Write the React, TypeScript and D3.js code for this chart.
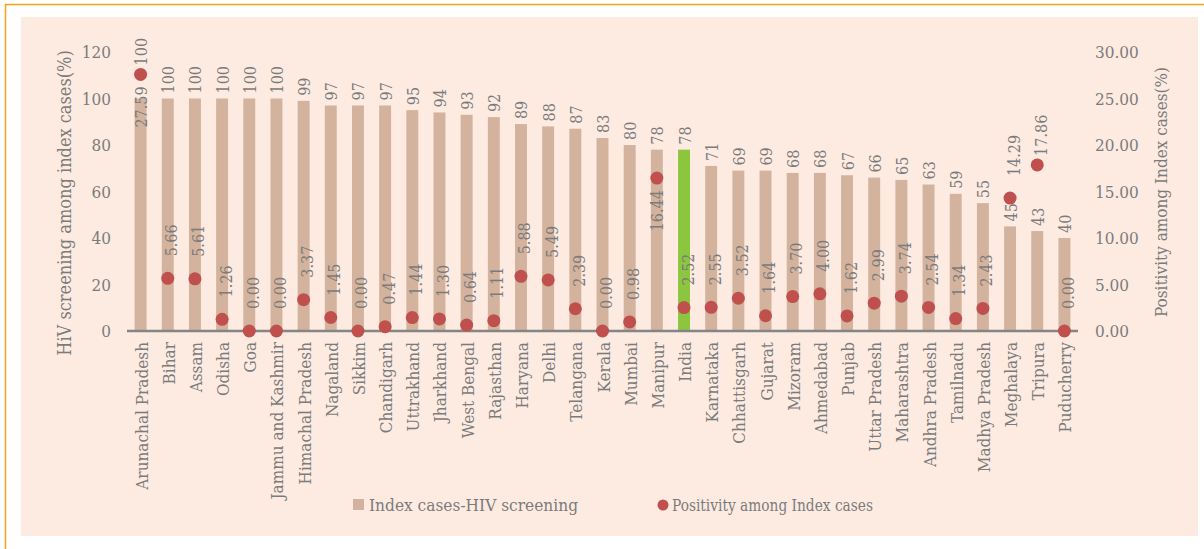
import React from "react";
import * as d3 from "d3";

const categories: string[] = [
  "Arunachal Pradesh", "Bihar", "Assam", "Odisha", "Goa", "Jammu and Kashmir",
  "Himachal Pradesh", "Nagaland", "Sikkim", "Chandigarh", "Uttrakhand", "Jharkhand",
  "West Bengal", "Rajasthan", "Haryana", "Delhi", "Telangana", "Kerala", "Mumbai",
  "Manipur", "India", "Karnataka", "Chhattisgarh", "Gujarat", "Mizoram", "Ahmedabad",
  "Punjab", "Uttar Pradesh", "Maharashtra", "Andhra Pradesh", "Tamilnadu",
  "Madhya Pradesh", "Meghalaya", "Tripura", "Puducherry",
];

const screening: number[] = [
  100, 100, 100, 100, 100, 100, 99, 97, 97, 97, 95, 94, 93, 92, 89, 88, 87, 83, 80,
  78, 78, 71, 69, 69, 68, 68, 67, 66, 65, 63, 59, 55, 45, 43, 40,
];

const positivity: number[] = [
  27.59, 5.66, 5.61, 1.26, 0.0, 0.0, 3.37, 1.45, 0.0, 0.47, 1.44, 1.3, 0.64, 1.11,
  5.88, 5.49, 2.39, 0.0, 0.98, 16.44, 2.52, 2.55, 3.52, 1.64, 3.7, 4.0, 1.62, 2.99,
  3.74, 2.54, 1.34, 2.43, 14.29, 17.86, 0.0,
];

const leftTicks: number[] = [0, 20, 40, 60, 80, 100, 120];
const rightTicks: number[] = [0, 5, 10, 15, 20, 25, 30];

const highlight = "India";
const seriesNames = ["Index cases-HIV screening", "Positivity among Index cases"];
const leftTitle = "HiV screening among index cases(%)";
const rightTitle = "Positivity among Index cases(%)";

const FONT = "'DejaVu Serif Condensed', 'DejaVu Serif', serif";
const TXT = "#7b7b7b";
const BAR = "#d3b39d";
const GREEN = "#8cc63f";
const DOT = "#c0504d";

export default function App() {
  const W = 1204, H = 549;
  const x = d3.scaleBand<string>().domain(categories).range([127, 1078]).paddingInner(0.56).paddingOuter(0.28);
  const yL = d3.scaleLinear().domain([0, 120]).range([331, 52]);
  const yR = d3.scaleLinear().domain([0, 30]).range([331, 52]);
  const bw = x.bandwidth();
  const labelFS = 16;
  const charW = labelFS * 0.56;
  const plotTop = yL(120);
  const R = 6.5;

  return (
    <svg width={W} height={H} style={{ position: "absolute", left: 0, top: 0, fontFamily: FONT }}>
      <rect x={0} y={0} width={W} height={H} fill="#ffffff" />
      <line x1={5} y1={4.5} x2={W} y2={4.5} stroke="#f5a21c" strokeWidth={1.5} />
      <line x1={5.5} y1={4} x2={5.5} y2={H} stroke="#f5a21c" strokeWidth={1.5} />
      <rect x={21} y={17} width={1177} height={519} fill="#fdebe2" />

      {/* bars */}
      {categories.map((c, i) => (
        <rect key={"b" + c} x={x(c)} y={yL(screening[i])} width={bw}
          height={yL(0) - yL(screening[i])} fill={c === highlight ? GREEN : BAR} />
      ))}

      {/* baseline */}
      <line x1={127} x2={1078} y1={yL(0)} y2={yL(0)} stroke="#858585" strokeWidth={2.5} />

      {/* dots */}
      {categories.map((c, i) => (
        <circle key={"d" + c} cx={(x(c) as number) + bw / 2} cy={yR(positivity[i])} r={R} fill={DOT} />
      ))}

      {/* labels */}
      {categories.map((c, i) => {
        const cx = (x(c) as number) + bw / 2;
        const barTop = yL(screening[i]);
        const dy = yR(positivity[i]);
        const barTxt = String(screening[i]);
        const dotTxt = positivity[i].toFixed(2);
        const barLen = barTxt.length * charW;
        const dotLen = dotTxt.length * charW;
        // bar label above bar, moved above the dot when the dot covers it
        let barStart = barTop - 5;
        const overlap = Math.min(dy + R, barStart) - Math.max(dy - R, barStart - barLen);
        if (overlap > 3) barStart = dy - 9;
        const barLabelTop = barStart - barLen;
        // dot label above dot; below when it would hit the bar label or leave the plot
        const gap = dy < barTop - 40 ? 9 : 22;
        const dotAbove = dy - gap;
        let below = false;
        if (dotAbove > barLabelTop - 4 && dotAbove - dotLen < barStart + 4) below = true;
        if (dotAbove - dotLen < plotTop) below = true;
        return (
          <g key={"l" + c} fill={TXT} fontSize={labelFS}>
            <text transform={`translate(${cx + 1},${barStart}) rotate(-90)`} dominantBaseline="central" textAnchor="start">{barTxt}</text>
            {below ? (
              <text transform={`translate(${cx + 1},${dy + 12}) rotate(-90)`} dominantBaseline="central" textAnchor="end">{dotTxt}</text>
            ) : (
              <text transform={`translate(${cx + 4},${dotAbove}) rotate(-90)`} dominantBaseline="central" textAnchor="start">{dotTxt}</text>
            )}
          </g>
        );
      })}

      {/* x labels */}
      {categories.map((c) => (
        <text key={"x" + c} transform={`translate(${(x(c) as number) + bw / 2 + 1},${342}) rotate(-90)`}
          textAnchor="end" dominantBaseline="central" fill={TXT} fontSize={17}>{c}</text>
      ))}

      {/* axes */}
      {leftTicks.map((t) => (
        <text key={"lt" + t} x={111} y={yL(t)} textAnchor="end" dominantBaseline="central" fill={TXT} fontSize={17}>{t}</text>
      ))}
      {rightTicks.map((t) => (
        <text key={"rt" + t} x={1095} y={yR(t)} textAnchor="start" dominantBaseline="central" fill={TXT} fontSize={17}>{t.toFixed(2)}</text>
      ))}
      <text transform={`translate(64,203) rotate(-90)`} textAnchor="middle" dominantBaseline="central" fill={TXT} fontSize={18}>{leftTitle}</text>
      <text transform={`translate(1161,192) rotate(-90)`} textAnchor="middle" dominantBaseline="central" fill={TXT} fontSize={17}>{rightTitle}</text>

      {/* legend */}
      <rect x={353} y={499} width={11} height={11} fill={BAR} />
      <text x={369} y={505} dominantBaseline="central" fill={TXT} fontSize={17}
        textLength={209} lengthAdjust="spacingAndGlyphs">{seriesNames[0]}</text>
      <circle cx={663} cy={505} r={5.5} fill={DOT} />
      <text x={672} y={505} dominantBaseline="central" fill={TXT} fontSize={17}
        textLength={201} lengthAdjust="spacingAndGlyphs">{seriesNames[1]}</text>
    </svg>
  );
}
